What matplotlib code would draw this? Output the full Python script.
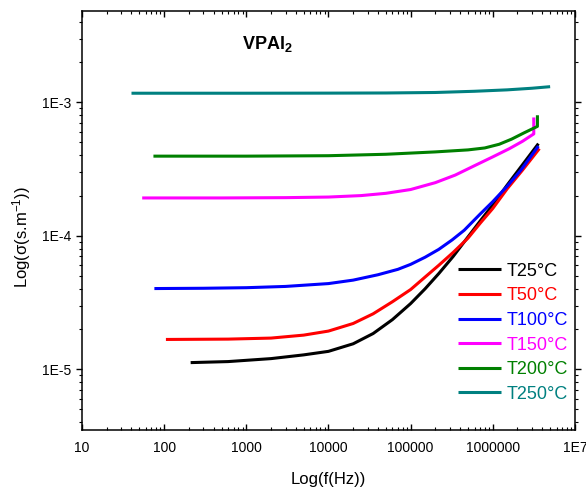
import numpy as np
import matplotlib
matplotlib.use("Agg")
import matplotlib.pyplot as plt
from matplotlib.ticker import LogLocator, FixedLocator, FuncFormatter, NullFormatter

plt.rcParams['font.family'] = ['Liberation Sans', 'DejaVu Sans']
plt.rcParams['mathtext.fontset'] = 'custom'
plt.rcParams['mathtext.rm'] = 'Liberation Sans'
plt.rcParams['mathtext.it'] = 'Liberation Sans:italic'
plt.rcParams['mathtext.bf'] = 'Liberation Sans:bold'

# -----------------------------------------------------------------------------
# Data (frequency in Hz, conductivity in S/m)
# -----------------------------------------------------------------------------
f_t25 = [210, 600, 2e3, 5e3, 1e4, 2e4, 3.5e4, 6e4, 1e5, 1.5e5, 2.2e5, 3.3e5, 5e5, 7.1e5, 1e6, 1.5e6, 2.3e6, 3.6e6]
s_t25 = [1.12e-5, 1.14e-5, 1.2e-5, 1.28e-5, 1.36e-5, 1.55e-5, 1.85e-5, 2.35e-5, 3.1e-5, 4.0e-5, 5.2e-5,
         7.0e-5, 9.8e-5, 1.3e-4, 1.7e-4, 2.4e-4, 3.4e-4, 4.9e-4]

f_t50 = [105, 600, 2e3, 5e3, 1e4, 2e4, 3.5e4, 6e4, 1e5, 1.5e5, 2.2e5, 3.3e5, 5e5, 7.1e5, 1e6, 1.5e6, 2.3e6, 3.7e6]
s_t50 = [1.67e-5, 1.68e-5, 1.71e-5, 1.8e-5, 1.93e-5, 2.2e-5, 2.6e-5, 3.2e-5, 3.95e-5, 4.9e-5, 6.0e-5,
         7.5e-5, 9.6e-5, 1.25e-4, 1.6e-4, 2.25e-4, 3.1e-4, 4.5e-4]

f_t100 = [76, 300, 1e3, 3e3, 1e4, 2e4, 4e4, 7e4, 1e5, 1.5e5, 2.2e5, 3.2e5, 4.5e5, 7e5, 1e6, 1.5e6, 2.2e6, 3.6e6]
s_t100 = [4.02e-5, 4.04e-5, 4.08e-5, 4.17e-5, 4.38e-5, 4.65e-5, 5.1e-5, 5.6e-5, 6.1e-5, 6.9e-5, 7.9e-5,
          9.3e-5, 1.1e-4, 1.45e-4, 1.8e-4, 2.35e-4, 3.1e-4, 4.7e-4]

f_t150 = [54, 500, 3e3, 1e4, 2.5e4, 5e4, 1e5, 2e5, 3.5e5, 6e5, 1e6, 1.6e6, 2.3e6, 3.16e6, 3.16e6]
s_t150 = [1.92e-4, 1.92e-4, 1.93e-4, 1.95e-4, 2.0e-4, 2.08e-4, 2.22e-4, 2.5e-4, 2.85e-4, 3.35e-4, 3.9e-4,
          4.5e-4, 5.1e-4, 5.8e-4, 7.7e-4]

f_t200 = [74, 1e3, 1e4, 5e4, 2e5, 5e5, 8e5, 1.2e6, 1.7e6, 2.4e6, 3.5e6, 3.5e6]
s_t200 = [3.95e-4, 3.95e-4, 3.98e-4, 4.08e-4, 4.25e-4, 4.4e-4, 4.55e-4, 4.85e-4, 5.3e-4, 5.9e-4, 6.6e-4, 8.0e-4]

f_t250 = [40, 1e3, 1e4, 5e4, 2e5, 6e5, 1.5e6, 3e6, 5e6]
s_t250 = [1.17e-3, 1.17e-3, 1.172e-3, 1.175e-3, 1.185e-3, 1.21e-3, 1.24e-3, 1.275e-3, 1.31e-3]

labels = ['T25°C', 'T50°C', 'T100°C', 'T150°C', 'T200°C', 'T250°C']
colors = ['#000000', '#FF0000', '#0000FF', '#FF00FF', '#008000', '#008080']

x_ticks = [10, 100, 1000, 10000, 100000, 1000000, 10000000]
x_ticklabels = ['10', '100', '1000', '10000', '100000', '1000000', '1E7']
y_ticks = [1e-5, 1e-4, 1e-3]
y_ticklabels = ['1E-5', '1E-4', '1E-3']

# -----------------------------------------------------------------------------
# Plot
# -----------------------------------------------------------------------------
fig = plt.figure(figsize=(5.86, 4.92), dpi=100)
ax = fig.add_axes([0.140, 0.126, 0.841, 0.852])

series = [(f_t25, s_t25), (f_t50, s_t50), (f_t100, s_t100),
          (f_t150, s_t150), (f_t200, s_t200), (f_t250, s_t250)]
for (fx, sy), lab, col in zip(series, labels, colors):
    ax.plot(fx, sy, color=col, lw=2.2, label=lab, solid_capstyle='butt', solid_joinstyle='round')

ax.set_xscale('log')
ax.set_yscale('log')
ax.set_xlim(10, 1e7)
ax.set_ylim(3.5e-6, 4.85e-3)

ax.xaxis.set_major_locator(FixedLocator(x_ticks))
ax.xaxis.set_major_formatter(FuncFormatter(lambda v, p: x_ticklabels[x_ticks.index(v)] if v in x_ticks else ''))
ax.xaxis.set_minor_locator(LogLocator(base=10, subs=np.arange(2, 10), numticks=20))
ax.xaxis.set_minor_formatter(NullFormatter())
ax.yaxis.set_major_locator(FixedLocator(y_ticks))
ax.yaxis.set_major_formatter(FuncFormatter(lambda v, p: y_ticklabels[y_ticks.index(v)] if v in y_ticks else ''))
ax.yaxis.set_minor_locator(LogLocator(base=10, subs=np.arange(2, 10), numticks=20))
ax.yaxis.set_minor_formatter(NullFormatter())

ax.tick_params(axis='x', which='both', direction='in', top=True, labelsize=10, pad=8)
ax.tick_params(axis='y', which='both', direction='out', right=True, labelsize=10, pad=3)
ax.tick_params(which='major', length=4.5, width=1)
ax.tick_params(which='minor', length=2.2, width=0.8)
for sp in ax.spines.values():
    sp.set_linewidth(1.1)

ax.set_xlabel('Log(f(Hz))', fontsize=12, labelpad=12)
ax.set_ylabel('Log(σ(s.m$^{-1}$))', fontsize=12)
ax.yaxis.set_label_coords(-0.10, 0.46)

ax.text(0.325, 0.909, r'$\mathbf{VPAl}_{\mathbf{2}}$', transform=ax.transAxes,
        fontsize=13, va='baseline', ha='left')

leg = ax.legend(loc='upper left', bbox_to_anchor=(0.763, 0.399), frameon=False,
                fontsize=13, handlelength=2.4, handletextpad=0.3, labelspacing=0.42,
                borderpad=0, borderaxespad=0)
for txt, col in zip(leg.get_texts(), colors):
    txt.set_color(col)

fig.savefig('out.png', dpi=100)
